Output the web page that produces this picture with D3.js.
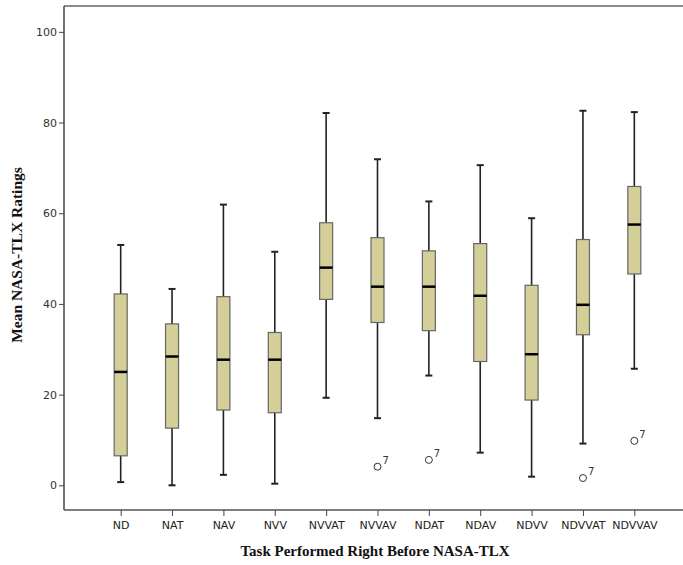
<!DOCTYPE html>
<html>
<head>
<meta charset="utf-8">
<script src="https://cdn.jsdelivr.net/npm/d3@7"></script>
<style>
  body { margin: 0; background: #fff; }
  svg { display: block; }
</style>
</head>
<body>
<svg id="chart" width="683" height="565"></svg>
<script>
// box statistics
const tasks = ["ND", "NAT", "NAV", "NVV", "NVVAT", "NVVAV", "NDAT", "NDAV", "NDVV", "NDVVAT", "NDVVAV"];
const lowWhisker = [0.7, 0, 2.3, 0.35, 19.3, 14.8, 24.2, 7.2, 1.9, 9.2, 25.7];
const q1 = [6.5, 12.6, 16.6, 16.0, 41.0, 35.9, 34.1, 27.3, 18.8, 33.2, 46.6];
const median = [25.0, 28.4, 27.7, 27.7, 48.0, 43.8, 43.8, 41.8, 28.9, 39.8, 57.5];
const q3 = [42.2, 35.6, 41.6, 33.7, 57.9, 54.6, 51.7, 53.3, 44.1, 54.2, 65.9];
const highWhisker = [53.0, 43.3, 61.9, 51.5, 82.1, 71.9, 62.6, 70.6, 58.9, 82.6, 82.3];
// outliers: task, value, case label
const outlierTask = ["NVVAV", "NDAT", "NDVVAT", "NDVVAV"];
const outlierValue = [4.1, 5.6, 1.6, 9.8];
const outlierCase = ["7", "7", "7", "7"];
const yTicks = [0, 20, 40, 60, 80, 100];

const boxes = tasks.map((t, i) => ({
  task: t, lo: lowWhisker[i], q1: q1[i], med: median[i], q3: q3[i], hi: highWhisker[i]
}));
const outliers = outlierTask.map((t, i) => ({ task: t, v: outlierValue[i], label: outlierCase[i] }));

const svg = d3.select("#chart");
const plotLeft = 64, plotTop = 6, plotBottom = 510, plotRight = 683;

const x = d3.scalePoint().domain(tasks).range([95, 660]).padding(0.5);
const y = d3.scaleLinear().domain([-5.45, 105.7]).range([plotBottom, plotTop]);

const boxW = 13, capW = 7;

// frame (top + right run off the picture)
svg.append("line")
  .attr("x1", plotLeft).attr("x2", plotRight).attr("y1", plotTop).attr("y2", plotTop)
  .attr("stroke", "#666").attr("stroke-width", 1.5);

// y axis
const yAxis = svg.append("g")
  .attr("transform", `translate(${plotLeft},0)`)
  .call(d3.axisLeft(y).tickValues(yTicks).tickSize(5).tickPadding(2));
yAxis.select(".domain").attr("stroke", "#444").attr("stroke-width", 1.5)
  .attr("d", `M0,${plotTop}V${plotBottom}`);
yAxis.selectAll(".tick line").attr("stroke", "#444");
yAxis.selectAll(".tick text")
  .attr("fill", "#333").style("font-family", "DejaVu Sans, sans-serif").style("font-size", "11px");

// x axis
const xAxis = svg.append("g")
  .attr("transform", `translate(0,${plotBottom})`)
  .call(d3.axisBottom(x).tickSize(6).tickPadding(5));
xAxis.select(".domain").attr("stroke", "#555").attr("stroke-width", 1.5)
  .attr("d", `M${plotLeft},0H${plotRight}`);
xAxis.selectAll(".tick line").attr("stroke", "#444");
xAxis.selectAll(".tick text")
  .attr("fill", "#222").style("font-family", "DejaVu Sans, sans-serif").style("font-size", "11px");

// whiskers
const g = svg.append("g");
g.selectAll("line.whisker")
  .data(boxes)
  .enter()
  .append("line")
  .attr("class", "whisker")
  .attr("x1", d => x(d.task)).attr("x2", d => x(d.task))
  .attr("y1", d => y(d.lo)).attr("y2", d => y(d.hi))
  .attr("stroke", "#222").attr("stroke-width", 1.6);

// caps
["lo", "hi"].forEach(k => {
  g.selectAll("line.cap-" + k)
    .data(boxes)
    .enter()
    .append("line")
    .attr("class", "cap-" + k)
    .attr("x1", d => x(d.task) - capW / 2).attr("x2", d => x(d.task) + capW / 2)
    .attr("y1", d => y(d[k])).attr("y2", d => y(d[k]))
    .attr("stroke", "#222").attr("stroke-width", 2);
});

// boxes
g.selectAll("rect")
  .data(boxes)
  .enter()
  .append("rect")
  .attr("x", d => x(d.task) - boxW / 2)
  .attr("width", boxW)
  .attr("y", d => y(d.q3))
  .attr("height", d => y(d.q1) - y(d.q3))
  .attr("fill", "#d4cf98")
  .attr("stroke", "#666")
  .attr("stroke-width", 1.2);

// medians
g.selectAll("line.median")
  .data(boxes)
  .enter()
  .append("line")
  .attr("class", "median")
  .attr("x1", d => x(d.task) - boxW / 2).attr("x2", d => x(d.task) + boxW / 2)
  .attr("y1", d => y(d.med)).attr("y2", d => y(d.med))
  .attr("stroke", "#000").attr("stroke-width", 2.5);

// outliers
g.selectAll("circle")
  .data(outliers)
  .enter()
  .append("circle")
  .attr("cx", d => x(d.task))
  .attr("cy", d => y(d.v))
  .attr("r", 3.5)
  .attr("fill", "none")
  .attr("stroke", "#333")
  .attr("stroke-width", 1);

g.selectAll("text.case")
  .data(outliers)
  .enter()
  .append("text")
  .attr("class", "case")
  .attr("x", d => x(d.task) + 5)
  .attr("y", d => y(d.v) - 3)
  .attr("fill", "#333")
  .style("font-family", "DejaVu Sans, sans-serif")
  .style("font-size", "10px")
  .text(d => d.label);

// axis titles
svg.append("text")
  .attr("x", 375).attr("y", 556)
  .attr("text-anchor", "middle")
  .style("font-family", "Liberation Serif, Times New Roman, serif")
  .style("font-weight", "bold").style("font-size", "15px")
  .attr("fill", "#111")
  .text("Task Performed Right Before NASA-TLX");

svg.append("text")
  .attr("transform", "translate(22,255) rotate(-90)")
  .attr("text-anchor", "middle")
  .style("font-family", "Liberation Serif, Times New Roman, serif")
  .style("font-weight", "bold").style("font-size", "15.5px")
  .attr("fill", "#111")
  .text("Mean NASA-TLX Ratings");
</script>
</body>
</html>
